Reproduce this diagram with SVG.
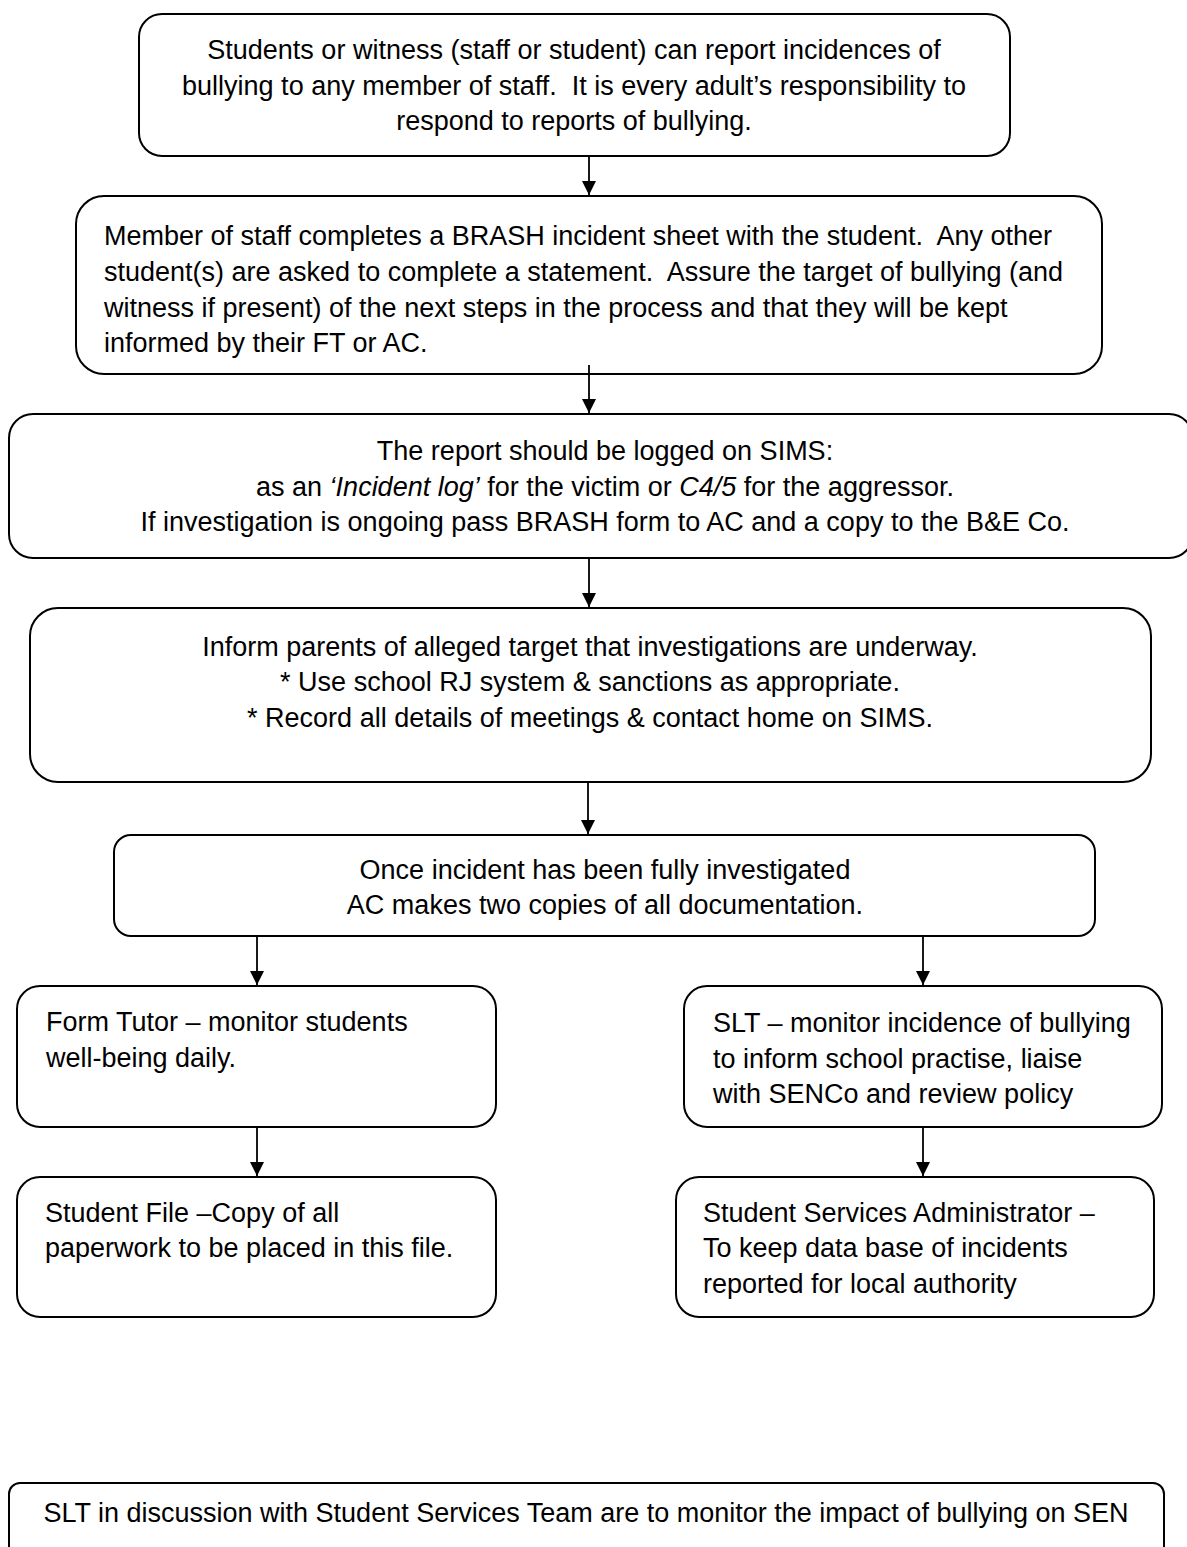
<svg xmlns="http://www.w3.org/2000/svg" width="1187" height="1547" viewBox="0 0 1187 1547">
<defs>
<style>
.box{fill:#fff;stroke:#000;stroke-width:2}
.t{font-family:"Liberation Sans",Arial,sans-serif;font-size:27px;fill:#000;white-space:pre}
.c{text-anchor:middle}
.conn line{stroke:#000;stroke-width:1.8}
</style>
<marker id="ah" viewBox="0 0 14 14" refX="14" refY="7" markerWidth="14" markerHeight="14" markerUnits="userSpaceOnUse" orient="auto">
<path d="M0,0 L14,7 L0,14 Z" fill="#000"/>
</marker>
</defs>
<rect width="1187" height="1547" fill="#fff"/>

<g id="n1">
<rect class="box" x="139" y="14" width="871" height="142" rx="23"/>
<text class="t c" x="574" y="59">Students or witness (staff or student) can report incidences of</text>
<text class="t c" x="574" y="95">bullying to any member of staff.  It is every adult’s responsibility to</text>
<text class="t c" x="574" y="130">respond to reports of bullying.</text>
</g>

<g id="n2">
<rect class="box" x="76" y="196" width="1026" height="178" rx="28"/>
<text class="t" x="104" y="245">Member of staff completes a BRASH incident sheet with the student.  Any other</text>
<text class="t" x="104" y="281">student(s) are asked to complete a statement.  Assure the target of bullying (and</text>
<text class="t" x="104" y="317">witness if present) of the next steps in the process and that they will be kept</text>
<text class="t" x="104" y="352">informed by their FT or AC.</text>
</g>

<g id="n3">
<rect class="box" x="9" y="414" width="1184" height="144" rx="24"/>
<text class="t c" x="605" y="460">The report should be logged on SIMS:</text>
<text class="t c" x="605" y="496">as an <tspan font-style="italic">‘Incident log’</tspan> for the victim or <tspan font-style="italic">C4/5</tspan> for the aggressor.</text>
<text class="t c" x="605" y="531">If investigation is ongoing pass BRASH form to AC and a copy to the B&amp;E Co.</text>
</g>

<g id="n4">
<rect class="box" x="30" y="608" width="1121" height="174" rx="28"/>
<text class="t c" x="590" y="656">Inform parents of alleged target that investigations are underway.</text>
<text class="t c" x="590" y="691">* Use school RJ system &amp; sanctions as appropriate.</text>
<text class="t c" x="590" y="727">* Record all details of meetings &amp; contact home on SIMS.</text>
</g>

<g id="n5">
<rect class="box" x="114" y="835" width="981" height="101" rx="17"/>
<text class="t c" x="605" y="879">Once incident has been fully investigated</text>
<text class="t c" x="605" y="914">AC makes two copies of all documentation.</text>
</g>

<g id="n6">
<rect class="box" x="17" y="986" width="479" height="141" rx="23"/>
<text class="t" x="46" y="1031">Form Tutor – monitor students</text>
<text class="t" x="46" y="1067">well-being daily.</text>
</g>

<g id="n7">
<rect class="box" x="684" y="986" width="478" height="141" rx="23"/>
<text class="t" x="713" y="1032">SLT – monitor incidence of bullying</text>
<text class="t" x="713" y="1068">to inform school practise, liaise</text>
<text class="t" x="713" y="1103">with SENCo and review policy</text>
</g>

<g id="n8">
<rect class="box" x="17" y="1177" width="479" height="140" rx="23"/>
<text class="t" x="45" y="1222">Student File –Copy of all</text>
<text class="t" x="45" y="1257">paperwork to be placed in this file.</text>
</g>

<g id="n9">
<rect class="box" x="676" y="1177" width="478" height="140" rx="23"/>
<text class="t" x="703" y="1222">Student Services Administrator –</text>
<text class="t" x="703" y="1257">To keep data base of incidents</text>
<text class="t" x="703" y="1293">reported for local authority</text>
</g>

<g id="n10">
<rect class="box" x="9" y="1483" width="1155" height="80" rx="11"/>
<text class="t c" x="586" y="1522">SLT in discussion with Student Services Team are to monitor the impact of bullying on SEN</text>
</g>

<g id="connectors" class="conn">
<line x1="589" y1="156" x2="589" y2="195" marker-end="url(#ah)"/>
<line x1="589" y1="365" x2="589" y2="413" marker-end="url(#ah)"/>
<line x1="589" y1="558" x2="589" y2="607" marker-end="url(#ah)"/>
<line x1="588" y1="782" x2="588" y2="834" marker-end="url(#ah)"/>
<line x1="257" y1="936" x2="257" y2="985" marker-end="url(#ah)"/>
<line x1="923" y1="936" x2="923" y2="985" marker-end="url(#ah)"/>
<line x1="257" y1="1127" x2="257" y2="1176" marker-end="url(#ah)"/>
<line x1="923" y1="1127" x2="923" y2="1176" marker-end="url(#ah)"/>
</g>
</svg>
